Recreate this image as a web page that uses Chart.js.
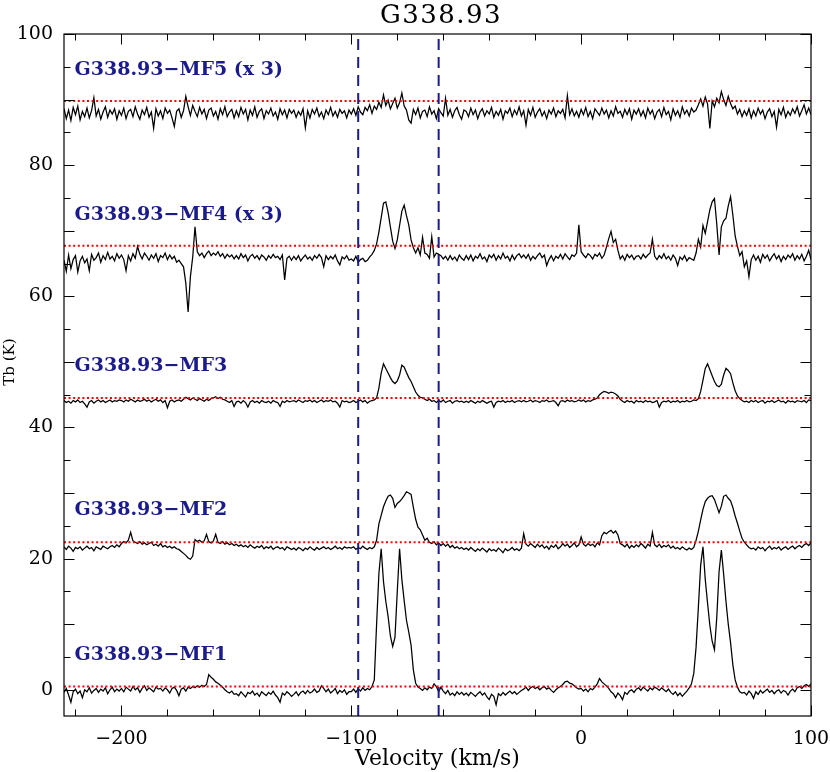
<!DOCTYPE html>
<html>
<head>
<meta charset="utf-8">
<script src="https://cdn.jsdelivr.net/npm/chart.js@4"></script>
<style>
  html, body { margin:0; padding:0; background:#fff; }
  canvas { display:block; }
</style>
</head>
<body>
<canvas id="spec" width="830" height="772"></canvas>
<script>
// channel grid: first channel and width in km/s
const velStart = -225, velStep = 1;

const spectrumNames = ['G338.93\u2212MF1', 'G338.93\u2212MF2', 'G338.93\u2212MF3', 'G338.93\u2212MF4 (x 3)', 'G338.93\u2212MF5 (x 3)'];

// Tb (K), relative to each spectrum's plot offset, one row per 25 km/s
const mf1 = [
  -0.4, 0.2, -0.8, -1.9, -0.3, 0.1, -0.6, -0.2, -1.2, 0.0, -0.3, 0.3, -0.5, -0.1, 0.2, -0.4, 0.1, -0.2, 0.3, -0.6, 0.0, 0.4, -0.3, 0.1, -0.2,
  0.2, -0.3, 0.4, 0.1, -0.2, 0.5, 0.0, 0.3, -0.4, 0.2, 0.6, -0.1, 0.3, 0.0, -0.3, 0.4, 0.1, 0.2, -0.2, 0.3, 0.0, -0.5, 0.2, 0.4, -0.1,
  -0.9, 0.1, 0.3, -0.2, 0.4, 0.2, 0.5, 0.3, 0.6, 0.4, 0.7, 0.5, 0.8, 2.3, 1.9, 1.6, 1.2, 1.0, 0.7, 0.4, 0.0, -0.3, -0.5, -0.2, -0.7,
  -0.6, -0.9, -0.3, -0.7, -1.1, -0.4, -0.6, -0.2, -0.8, -0.5, -1.0, -0.3, -0.6, -0.9, -0.4, -0.7, -0.2, -0.8, -1.2, -1.9, -0.5, -0.8, -0.3, -0.6, -1.0,
  -0.7, -0.3, -0.9, -0.4, -0.2, -0.6, -0.1, -0.5, -0.3, 0.1, -0.4, -0.2, 0.6, 0.2, -0.3, 0.1, -0.5, -0.2, 0.2, -0.6, -0.1, -0.4, 0.0, -0.7, -0.3,
  -0.3, 0.1, -0.4, 0.2, -0.2, 0.3, -0.1, 0.2, 0.0, 0.5, 1.5, 10.0, 17.7, 21.5, 16.5, 13.5, 11.2, 8.2, 6.6, 8.0, 15.0, 21.5, 16.8, 13.6, 10.6,
  8.8, 6.8, 3.0, 1.0, 0.4, 0.2, -0.1, 0.3, 0.0, 0.4, 0.2, 0.9, 0.5, -0.3, 0.4, -0.2, -0.6, -0.1, -0.8, -0.5, -0.9, -0.3, -0.7, -0.4, -0.8,
  -0.5, -0.9, -0.4, -0.7, -1.0, -0.6, -0.3, -0.8, -0.5, -1.1, -1.5, -0.7, -1.0, -2.3, -0.6, -0.9, -0.4, -0.8, -0.5, -0.2, -0.6, -0.3, -0.7, -0.4, -0.1,
  0.1, 0.4, -0.1, 0.3, 0.5, 0.2, 0.4, 0.0, 0.3, 0.5, 0.1, 0.3, -0.1, -0.4, 0.0, 0.3, 0.5, 0.8, 1.2, 1.3, 1.0, 0.9, 0.6, 0.3, 0.1,
  0.2, -0.2, 0.1, -0.3, 0.2, 0.0, 0.4, 0.9, 1.7, 1.2, 0.9, 0.6, 0.2, -0.3, -0.6, -1.2, -0.5, -0.9, -1.5, -0.4, -0.7, -0.2, 0.0, -0.4, 0.1,
  0.3, -0.1, 0.4, 0.1, -0.2, 0.3, 0.0, 0.4, 0.2, -0.1, 0.3, 0.0, -0.3, 0.1, -0.4, -0.7, -0.3, -0.9, -0.5, -1.0, -0.6, -0.2, 0.3, 0.9, 2.5,
  6.5, 12.6, 19.0, 21.8, 16.8, 13.2, 9.8, 7.4, 6.1, 11.0, 18.0, 21.3, 17.6, 13.5, 10.0, 7.2, 3.8, 1.5, 0.4, -0.3, -0.5, -0.4, -0.8, -0.2, -0.6,
  -1.3, -0.3, -0.7, -0.1, -0.5, -0.2, 0.1, -0.4, -0.1, -0.6, -0.2, 0.0, -0.5, -0.1, -0.3, -0.8, -0.2, 0.1, -0.3, 0.3, 0.5, 0.2, 0.6, 0.8, 0.5,
  0.9
];
const mf2 = [
  -0.2, -0.6, -0.1, -0.4, -0.9, -0.3, -0.5, -0.2, -0.7, -0.4, -0.1, -0.5, -0.3, -0.8, -0.2, -0.4, -0.6, -0.1, -0.3, -0.5, -0.2, 0.0, -0.3, 0.1, -0.2,
  0.3, 0.6, 0.4, 0.8, 2.0, 0.7, 0.5, 0.3, 0.6, 0.2, 0.4, 0.1, 0.3, 0.5, 0.0, 0.2, -0.1, 0.3, -0.2, 0.0, -0.3, -0.1, -0.4, -0.2, -0.5,
  -0.6, -0.9, -1.2, -1.5, -1.9, -2.1, -1.6, 0.9, 0.6, 0.8, 0.5, 0.7, 1.7, 0.6, 0.4, 0.7, 1.7, 0.5, 0.3, 0.6, 0.2, 0.4, 0.1, 0.3, 0.0,
  0.2, -0.1, 0.1, -0.2, 0.0, -0.3, 0.1, -0.2, -0.4, -0.1, -0.3, 0.0, -0.5, -0.2, -0.4, -0.1, -0.6, -0.3, -0.2, -0.5, -0.3, -0.7, -0.2, -0.4, -0.6,
  -0.4, -0.7, -0.3, -0.5, -0.8, -0.4, -0.6, -0.2, -0.5, -0.7, -0.3, -0.6, -0.4, -0.2, -0.5, -0.3, -0.6, -0.4, -0.1, -0.5, -0.3, -0.6, -0.2, -0.4, -0.3,
  -0.4, -0.2, -0.6, -0.3, -0.5, -0.1, -0.4, -0.6, -0.3, -0.5, -0.2, 0.8, 3.3, 4.6, 5.9, 6.8, 7.5, 7.7, 7.2, 5.8, 6.4, 6.7, 7.1, 7.6, 8.2,
  8.0, 7.8, 5.8, 4.0, 2.8, 2.4, 1.6, 0.8, 1.1, 0.5, 0.3, 0.6, 0.1, 0.4, 0.0, 0.3, -0.1, 0.2, -0.3, 0.0, -0.4, -0.2, -0.5, -0.3, -0.6,
  -0.4, -0.7, -0.3, -0.6, -0.9, -0.5, -0.8, -0.4, -0.7, -1.0, -0.5, -0.8, -0.6, -0.9, -0.4, -0.7, -1.1, -0.5, -0.8, -0.6, -0.3, -0.7, -0.5, -0.8, -0.4,
  1.8, 0.2, -0.1, 0.3, 0.0, -0.3, 0.2, -0.2, 0.1, -0.4, -0.1, -0.6, 0.0, -0.3, 0.1, -0.5, -0.2, 0.3, -0.1, 0.2, -0.3, 0.0, 0.4, -0.2, 0.1,
  1.3, 0.2, -0.1, 0.3, 0.0, 0.2, -0.2, 0.4, 0.1, 1.5, 2.0, 1.8, 2.1, 2.3, 1.9, 2.2, 1.6, 0.3, 0.1, -0.2, 0.2, -0.4, 0.0, -0.3, 0.1,
  -0.2, 0.3, 0.0, -0.4, 0.2, -0.1, 2.0, 0.1, -0.2, 0.2, -0.3, 0.0, -0.2, 0.1, -0.4, -0.1, -0.5, -0.3, -0.6, -0.2, -0.5, -0.7, -0.4, -0.6, -0.3,
  0.8, 2.2, 3.9, 5.5, 6.7, 7.2, 7.5, 7.6, 7.0, 6.0, 5.0, 6.0, 7.5, 7.7, 7.2, 6.8, 5.8, 4.5, 3.4, 2.2, 1.1, 0.5, 0.1, -0.3, -0.5,
  -0.4, -0.7, -0.2, -0.5, -0.3, -0.8, -0.4, -0.1, -0.6, -0.3, -0.5, -0.2, -0.7, -0.4, -0.2, -0.6, -0.3, -0.1, -0.5, -0.2, 0.0, -0.3, 0.1, 0.3, 0.0,
  0.4
];
const mf3 = [
  0.1, -0.2, 0.0, -0.3, 0.1, -0.1, 0.2, -0.2, 0.0, -0.4, -0.9, -0.1, 0.1, -0.3, 0.0, 0.2, -0.1, 0.1, -0.2, 0.0, 0.2, -0.1, 0.1, 0.0, 0.2,
  0.1, -0.1, 0.2, 0.0, 0.3, 0.1, -0.1, 0.2, 0.0, 0.1, 0.3, 0.0, 0.2, -0.1, 0.1, 0.3, 0.0, 0.2, -0.2, 0.1, -1.0, 0.0, 0.2, -0.1, 0.1,
  0.2, 0.0, 0.3, 0.6, 0.4, 0.2, 0.5, 0.3, 0.1, 0.4, 0.2, 0.0, 0.3, 0.1, 0.4, 0.5, 0.7, 0.4, 0.6, 0.3, 0.2, 0.0, -0.2, 0.1, -0.8,
  -0.1, 0.0, -0.3, 0.1, -0.2, -0.9, -0.1, 0.1, -0.2, 0.0, -0.3, 0.1, -0.1, -0.2, 0.0, -0.3, 0.1, -0.1, -0.2, -0.8, 0.0, -0.2, 0.1, -0.1, 0.0,
  0.1, -0.1, 0.2, 0.0, -0.2, 0.1, 0.0, 0.2, -0.1, 0.1, -0.2, 0.0, 0.2, -0.1, 0.1, 0.0, 0.2, -0.1, 0.0, -0.3, -0.9, 0.1, -0.1, 0.0, -0.2,
  -0.1, 0.1, -0.2, 0.0, 0.2, -0.1, 0.1, -0.3, 0.0, 0.1, 0.2, 0.5, 2.0, 4.3, 5.7, 5.0, 4.3, 3.6, 3.0, 2.7, 3.1, 4.0, 5.5, 5.2, 4.4,
  3.6, 3.0, 2.2, 1.4, 0.9, 0.6, 0.5, 0.3, 0.1, 0.3, 0.0, 0.1, -0.2, 0.1, -0.1, 0.2, -0.2, 0.0, 0.1, -0.3, 0.0, 0.1, -0.1, 0.0, -0.2,
  0.0, -0.2, 0.1, -0.1, -0.3, 0.0, -0.2, 0.1, -0.1, -0.3, -0.1, 0.0, -0.9, -0.2, 0.0, -0.1, 0.1, -0.2, 0.0, -0.1, 0.1, -0.2, 0.0, 0.1, -0.1,
  0.1, -0.1, 0.0, 0.2, -0.1, 0.1, 0.0, -0.2, 0.1, 0.0, 0.2, -0.1, 0.0, 0.1, -0.2, -0.7, 0.0, 0.1, -0.1, 0.2, 0.0, 0.1, -0.1, 0.0, 0.2,
  0.0, 0.2, -0.1, 0.1, 0.0, 0.2, 0.3, 0.5, 1.0, 1.3, 1.5, 1.4, 1.2, 1.4, 1.3, 1.1, 0.8, 0.3, 0.0, -0.2, 0.1, -0.1, 0.0, -0.3, 0.1,
  -0.1, 0.0, -0.2, 0.1, -0.1, 0.0, -0.2, -0.1, 0.1, -0.9, -0.2, 0.0, -0.1, 0.1, -0.2, 0.0, -0.1, 0.1, -0.2, 0.0, -0.1, 0.1, -0.1, 0.0, 0.2,
  0.1, 0.4, 1.5, 3.2, 5.0, 5.7, 4.8, 3.9, 3.0, 2.4, 2.2, 2.6, 4.0, 5.0, 4.7, 4.2, 2.8, 1.6, 0.8, 0.4, 0.1, -0.1, 0.0, -0.2, 0.1,
  -0.1, 0.1, -0.2, 0.0, 0.1, -0.3, 0.0, -0.1, 0.1, -0.2, 0.0, 0.2, -0.1, 0.0, -0.3, 0.1, -0.1, 0.0, -0.2, 0.1, 0.0, -0.1, 0.1, -0.2, 0.2,
  0.1
];
const mf4 = [
  -0.5, -2.2, 0.3, -1.8, -0.4, 0.2, -2.3, -0.6, 0.1, -0.9, -0.3, -2.1, 0.4, -0.5, -0.1, 0.6, -0.8, 0.2, -0.4, 0.7, -0.3, 0.1, -0.6, 0.5, -0.2,
  0.3, -0.4, -2.1, 0.2, -0.6, 0.5, -0.2, 1.6, 0.4, -0.3, 0.6, 0.1, -0.5, 0.3, -0.2, 0.5, -0.7, 0.2, -0.1, 0.6, -0.4, 0.3, -0.3, 0.1, -0.8,
  -0.5, -1.0, -1.5, -4.0, -8.4, -3.0, 0.0, 4.6, 0.8, 0.2, 0.6, -0.1, 0.5, 0.9, 0.2, 0.6, 0.3, 0.8, 0.1, 0.5, -0.2, 0.4, 0.0, 0.3, -0.3,
  0.2, -0.3, 0.5, -0.1, 0.3, -0.6, 0.1, 0.4, -0.2, 0.2, -0.4, 0.3, 0.0, -0.5, 0.2, -0.2, 0.4, -0.1, 0.1, -0.4, 0.3, -3.5, -0.2, 0.1, -0.5,
  0.1, -0.4, 0.2, -0.6, -0.1, 0.3, -0.3, 0.0, -0.5, 0.2, -0.2, 0.4, -0.1, -1.5, 0.2, -0.4, 0.1, -0.3, 0.3, -0.6, -1.2, 0.0, -0.3, 0.2, -0.5,
  -0.3, -0.6, 0.1, -0.8, -0.4, -0.2, -0.7, -0.5, 0.0, 0.4, 1.0, 2.0, 3.8, 6.0, 8.2, 8.4, 6.8, 4.6, 2.4, 1.3, 2.6, 4.8, 7.0, 7.9, 6.3,
  4.9, 2.6, 1.4, 0.6, 1.4, 0.3, 3.0, 0.6, 0.4, -0.2, 3.1, 0.0, 0.6, 0.4, 0.2, -0.3, 0.1, -0.5, 0.2, -0.4, 0.0, -0.6, 0.3, -0.2, -0.5,
  0.2, -0.4, 0.3, -0.6, 0.1, -0.2, 0.5, -0.3, 0.0, -0.7, 0.3, -0.1, 0.4, -0.5, 0.2, -0.3, 0.6, -0.2, 0.1, -0.6, 0.3, -0.4, 0.2, 0.5, -0.1,
  0.3, -0.2, 0.4, -0.5, 0.1, -0.3, 0.2, 0.6, -0.1, 0.3, -1.3, -0.4, 0.2, -0.6, 0.1, -0.2, 0.4, -0.3, 0.5, 0.0, -0.4, 0.3, 0.1, 0.6, 4.9,
  0.8, 0.3, -0.1, 0.5, 0.2, -0.3, 0.4, 0.1, 0.6, -0.2, 0.3, 1.5, 2.8, 3.9, 2.2, 2.7, 1.0, -0.3, 0.2, -0.5, 0.4, -0.1, 0.3, -0.4, 0.1,
  0.2, -0.3, 0.4, -0.1, 0.3, 0.6, 2.7, 0.1, -0.4, 0.2, -0.2, 0.5, -0.3, 0.1, -0.5, 0.3, -0.2, -1.3, 0.0, -0.4, 0.2, -0.6, -0.1, -0.3, -0.5,
  0.6, 2.7, 1.5, 4.8, 3.6, 5.4, 7.2, 8.4, 8.9, 5.0, 0.3, 4.6, 5.5, 5.9, 7.8, 9.2, 6.4, 3.2, 1.6, 0.2, 0.8, -1.5, -0.6, -3.0, -0.4,
  0.3, -0.5, 0.1, -0.8, 0.4, -0.2, 0.3, -0.6, 0.0, 0.5, -0.3, 0.2, -0.7, 0.1, -0.4, 0.3, -0.1, 0.5, -0.5, 0.2, -0.3, 0.4, -0.6, 0.1, 1.0,
  -0.4
];
const mf5 = [
  0.6, -0.9, 0.4, -1.2, 0.8, -0.3, 1.0, -1.1, 0.2, -0.6, 0.7, -0.8, 0.3, 2.3, -0.5, 0.5, -1.0, 0.1, 0.9, -0.7, 0.4, -0.2, 0.6, -1.0, 0.3,
  -0.4, 0.7, -0.9, 0.2, 0.5, -0.6, 0.9, -0.2, -1.0, 0.4, -0.3, 0.8, -0.7, 0.1, -2.4, 0.6, -0.5, 0.3, -0.9, 0.7, -0.1, 0.4, -0.8, -2.1, 0.2,
  0.6, -0.7, 0.3, 2.5, 0.9, -0.4, 1.1, 0.2, -0.6, 0.8, -0.2, 0.5, -0.9, 0.4, 0.7, -0.5, 0.2, -1.0, 0.6, -0.3, 0.9, -0.6, 0.1, 0.5, -0.8,
  0.3, -0.6, 0.8, -0.2, 0.5, -1.1, 0.4, -0.4, 0.9, -0.7, 0.2, 0.6, -0.9, 0.3, -0.2, 0.7, -0.5, 0.1, -1.0, 0.6, -0.3, 0.4, -0.8, 0.5, -0.1,
  0.4, -0.7, 0.2, -0.4, 0.6, -2.3, 0.3, -0.8, 0.5, -0.2, 0.7, -0.6, 0.1, -0.9, 0.4, -0.3, 0.8, -0.5, 0.2, -0.7, 0.5, -0.1, 0.3, -0.8, 0.4,
  -0.2, 0.6, -0.4, 0.9, 0.1, -0.3, 0.8, 0.3, 1.2, -0.1, 1.0, 0.5, 1.6, 0.8, 2.7, 1.1, 1.9, 0.6, 1.4, 2.2, 0.7, 1.5, 3.0, 1.0, 0.4,
  -1.1, -1.6, 0.5, -0.3, 0.7, -0.8, 0.2, 0.4, -0.6, 0.9, -0.2, 0.3, -0.9, 0.6, 0.0, -0.5, 2.2, -0.4, 0.5, -0.7, 0.3, 0.8, -0.3, -1.0, 0.4,
  0.2, -0.6, 0.7, -0.3, 0.4, -0.9, 0.1, 0.6, -0.5, 0.3, -0.2, 0.8, -0.7, 0.2, -0.4, 0.5, -1.0, 0.3, -0.1, 0.7, -0.6, 0.4, -0.3, 0.9, -0.5,
  0.3, -1.9, 0.5, -0.4, 0.8, -0.7, 0.1, 0.6, -0.5, 0.2, -0.9, 0.4, -0.2, 0.7, -0.6, 0.3, -0.1, 0.5, -0.8, 2.6, -0.3, 0.6, -0.5, 0.2, -0.7,
  0.5, -0.3, 0.8, -0.6, 0.2, -0.9, 0.6, 0.1, -0.4, 0.7, -0.2, 0.4, -0.8, 0.3, -0.5, 0.9, -0.1, 0.2, -0.7, 0.5, -0.3, 0.6, -1.0, 0.4, -0.2,
  0.6, -0.5, 0.3, -0.8, 0.7, -0.2, 0.4, -0.9, 0.1, 0.5, -0.6, 0.8, -0.3, 0.2, -1.1, 0.6, -0.4, 0.3, -0.7, 0.9, -0.2, 0.4, -0.5, 0.7, 0.1,
  0.4, 1.2, 2.1, 1.0, 2.4, 1.3, -2.4, 1.8, 0.9, 2.2, 1.5, 3.2, 2.0, 1.1, 2.5, 1.4, 0.6, 1.0, -0.2, 0.5, -0.6, 0.3, -0.4, 0.6, -0.8,
  0.3, -0.5, 0.7, -0.2, 0.4, -0.9, 0.1, 0.6, -0.6, 0.2, -2.2, 0.5, -0.3, 0.8, -0.7, 0.2, -0.4, 0.6, -0.1, 0.9, -0.5, 0.3, 1.2, -0.2, 0.7,
  -0.3
];

const spectra = [mf1, mf2, mf3, mf4, mf5];
const plotOffsets = [0, 22, 44, 66, 88];          // vertical shift of each spectrum
const refLevels = [0.5, 22.5, 44.5, 67.7, 89.8];  // red dotted lines
const markerVels = [-97, -62];                     // blue dashed lines
const xTickLabels = [-200, -100, 0, 100];
const yTickLabels = [0, 20, 40, 60, 80, 100];

const xMin = -225, xMax = 100, yMin = -4, yMax = 100;
const labelVel = -220.4;
const labelTb = [4.6, 26.6, 48.6, 71.6, 93.8];

const NAVY = '#1b1b8c';
const SERIF = '"DejaVu Serif", serif';
Chart.defaults.font.family = SERIF;
Chart.defaults.color = '#000';

const minus = v => (v < 0 ? '\u2212' + Math.abs(v) : String(v));

const datasets = [];
spectra.forEach((s, i) => {
  datasets.push({
    data: s.map((t, k) => ({ x: velStart + k * velStep, y: t + plotOffsets[i] })),
    borderColor: '#000', borderWidth: 1.25, pointRadius: 0, tension: 0, order: 2
  });
});
refLevels.forEach(l => {
  datasets.push({
    data: [{ x: xMin, y: l }, { x: xMax, y: l }],
    borderColor: '#ff0000', borderWidth: 2, borderDash: [2, 2.6], pointRadius: 0, order: 1
  });
});
markerVels.forEach(v => {
  datasets.push({
    data: [{ x: v, y: yMin }, { x: v, y: yMax }],
    borderColor: NAVY, borderWidth: 2, borderDash: [11, 7], pointRadius: 0, order: 0
  });
});

// frame, inward ticks on all four sides, spectrum labels, y title and plot title
const decorations = {
  id: 'decorations',
  afterDraw(chart) {
    const { ctx, chartArea: a, scales: { x, y } } = chart;
    ctx.save();
    ctx.strokeStyle = '#000';
    ctx.lineWidth = 1.2;
    ctx.strokeRect(a.left, a.top, a.right - a.left, a.bottom - a.top);

    ctx.beginPath();
    for (let v = -220; v <= xMax; v += 20) {
      const px = Math.round(x.getPixelForValue(v)) + 0.5;
      const len = v % 100 === 0 ? 10.5 : 6.5;
      ctx.moveTo(px, a.bottom); ctx.lineTo(px, a.bottom - len);
      ctx.moveTo(px, a.top); ctx.lineTo(px, a.top + len);
    }
    for (let t = 0; t <= yMax; t += 5) {
      const py = Math.round(y.getPixelForValue(t)) + 0.5;
      const len = t % 10 === 0 ? 10.5 : 6.5;
      ctx.moveTo(a.left, py); ctx.lineTo(a.left + len, py);
      ctx.moveTo(a.right, py); ctx.lineTo(a.right - len, py);
    }
    ctx.lineWidth = 1;
    ctx.stroke();

    ctx.fillStyle = NAVY;
    ctx.font = 'bold 19px ' + SERIF;
    ctx.textAlign = 'left';
    ctx.textBaseline = 'alphabetic';
    spectrumNames.forEach((n, i) => {
      ctx.fillText(n, x.getPixelForValue(labelVel), y.getPixelForValue(labelTb[i]));
    });

    ctx.fillStyle = '#000';
    ctx.save();
    ctx.translate(10, 362);
    ctx.rotate(-Math.PI / 2);
    ctx.font = '15px ' + SERIF;
    ctx.textAlign = 'center';
    ctx.textBaseline = 'middle';
    ctx.fillText('Tb (K)', 0, 0);
    ctx.restore();

    ctx.font = '26px ' + SERIF;
    ctx.textAlign = 'center';
    ctx.letterSpacing = '1.5px';
    ctx.fillText('G338.93', 441, 23);
    ctx.restore();
  }
};

new Chart(document.getElementById('spec'), {
  type: 'line',
  data: { datasets },
  plugins: [decorations],
  options: {
    responsive: false,
    animation: false,
    events: [],
    layout: { padding: { left: 0, right: 19, top: 34, bottom: 0 } },
    plugins: { legend: { display: false }, tooltip: { enabled: false }, title: { display: false } },
    scales: {
      x: {
        type: 'linear', min: xMin, max: xMax,
        grid: { display: false, drawTicks: false },
        border: { display: false },
        afterBuildTicks: s => { s.ticks = xTickLabels.map(v => ({ value: v })); },
        afterFit: s => { s.height = 56; s.paddingLeft = 0; s.paddingRight = 0; },
        ticks: { font: { size: 19 }, color: '#000', padding: 12, maxRotation: 0, autoSkip: false, callback: v => minus(v) },
        title: { display: true, text: 'Velocity (km/s)', font: { size: 22 }, color: '#000', padding: 0 }
      },
      y: {
        type: 'linear', min: yMin, max: yMax,
        grid: { display: false, drawTicks: false },
        border: { display: false },
        afterBuildTicks: s => { s.ticks = yTickLabels.map(v => ({ value: v })); },
        afterFit: s => { s.width = 64; s.paddingTop = 0; s.paddingBottom = 0; },
        ticks: { font: { size: 19 }, color: '#000', padding: 11, autoSkip: false, callback: v => minus(v) },
        title: { display: false }
      }
    }
  }
});
</script>
</body>
</html>
